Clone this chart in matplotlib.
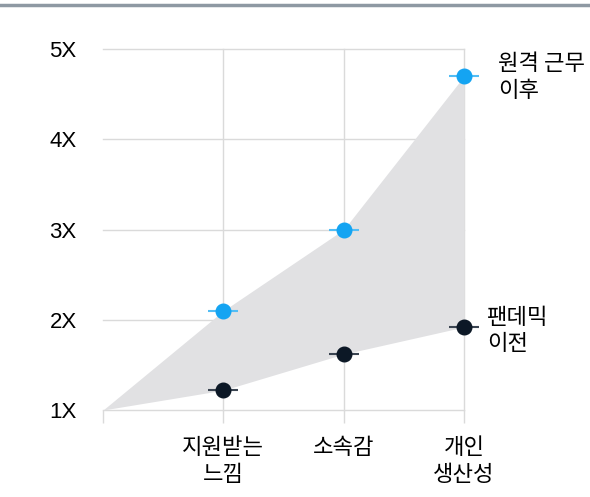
import matplotlib
matplotlib.use("Agg")
import matplotlib.pyplot as plt
from matplotlib.lines import Line2D

plt.rcParams['font.family'] = ['Noto Sans CJK KR', 'DejaVu Sans']

# data
categories = ["", "지원받는\n느낌", "소속감", "개인\n생산성"]
after_remote = [1.0, 2.1, 3.0, 4.7]     # 원격 근무 이후
before_pandemic = [1.0, 1.22, 1.62, 1.92]  # 팬데믹 이전
yticks = [1, 2, 3, 4, 5]
ytick_labels = ["1X", "2X", "3X", "4X", "5X"]

x = list(range(len(categories)))

fig = plt.figure(figsize=(5.9, 4.97), dpi=100)
ax = fig.add_axes([0.1746, 0.175, 0.612, 0.7264])

ax.fill_between(x, before_pandemic, after_remote, color="#e1e1e3", lw=0, zorder=1)

# grid
for yv in yticks:
    ax.plot([0, 3], [yv, yv], color="#dadada", lw=1, zorder=0.5, clip_on=False)
for xv in x[1:]:
    ax.plot([xv, xv], [1, 5], color="#dadada", lw=1, zorder=0.5, clip_on=False)

# points with small horizontal bars
ax.errorbar(x[1:], after_remote[1:], xerr=0.125, fmt='o', color="#14a4f2",
            ecolor="#52bdf5", elinewidth=1.5, ms=10.5, zorder=3, clip_on=False)
ax.errorbar(x[1:], before_pandemic[1:], xerr=0.125, fmt='o', color="#0c1826",
            ecolor="#3b4552", elinewidth=1.5, ms=10.5, zorder=3, clip_on=False)

ax.set_xlim(0, 3)
ax.set_ylim(1, 5)
ax.set_yticks(yticks)
ax.set_yticklabels(ytick_labels, fontsize=16, family=['Liberation Sans', 'DejaVu Sans'])
ax.set_xticks(x)
ax.set_xticklabels(categories, fontsize=16, linespacing=1.2)
ax.tick_params(axis='y', length=0, pad=19)
ax.tick_params(axis='x', length=9, color="#dadada", width=1, pad=10)
for s in ax.spines.values():
    s.set_visible(False)

ax.text(3.28, 4.69, "원격 근무\n이후", fontsize=16, va='center', ha='left',
        linespacing=1.2)
ax.text(3.19, 1.88, "팬데믹\n이전", fontsize=16, va='center', ha='left',
        linespacing=1.2)

# top rule
fig.add_artist(Line2D([0, 1], [0.989, 0.989], color="#8e99a3", lw=2.5,
                      transform=fig.transFigure))

fig.savefig("out.png", dpi=100, facecolor="white")
